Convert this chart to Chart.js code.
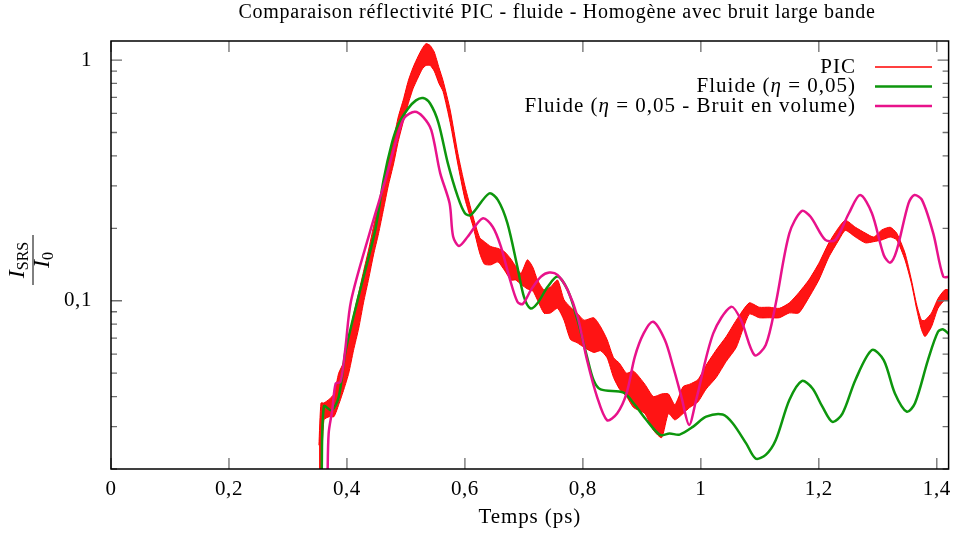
<!DOCTYPE html>
<html lang="fr">
<head>
<meta charset="utf-8">
<title>Comparaison réflectivité PIC - fluide</title>
<script src="https://cdn.jsdelivr.net/npm/chart.js@4.4.1/dist/chart.umd.min.js"></script>
<style>
  html, body { margin: 0; padding: 0; background: #fff; }
  #graphe { display: block; }
</style>
</head>
<body>
<canvas id="graphe" width="958" height="534"></canvas>
<script>
// Graduations
const xTicks = [0, 0.2, 0.4, 0.6, 0.8, 1, 1.2, 1.4];
const xTickLabels = ['0', '0,2', '0,4', '0,6', '0,8', '1', '1,2', '1,4'];
const yMajorTicks = [0.1, 1];
const yMajorLabels = ['0,1', '1'];
const yMinorTicks = [0.02, 0.03, 0.04, 0.05, 0.06, 0.07, 0.08, 0.09,
                     0.2, 0.3, 0.4, 0.5, 0.6, 0.7, 0.8, 0.9];

// PIC : enveloppe haute / basse des oscillations rapides
const picTemps = [0.3525, 0.356, 0.361, 0.370, 0.378, 0.386, 0.395, 0.403, 0.411, 0.420,
  0.428, 0.437, 0.445, 0.4535, 0.462, 0.470, 0.479, 0.487, 0.496, 0.504,
  0.512, 0.521, 0.528, 0.534, 0.541, 0.548, 0.556, 0.563, 0.575, 0.588,
  0.600, 0.6135, 0.625, 0.633, 0.644, 0.656, 0.667, 0.678, 0.686, 0.695,
  0.706, 0.715, 0.723, 0.734, 0.745, 0.757, 0.768, 0.779, 0.790, 0.802,
  0.8185, 0.830, 0.841, 0.852, 0.862, 0.874, 0.886, 0.905, 0.9195, 0.9335,
  0.945, 0.956, 0.970, 0.981, 0.995, 1.009, 1.026, 1.043, 1.060, 1.082,
  1.099, 1.116, 1.133, 1.150, 1.166, 1.183, 1.200, 1.217, 1.234, 1.245,
  1.262, 1.279, 1.293, 1.307, 1.321, 1.332, 1.346, 1.357, 1.366, 1.374,
  1.380, 1.391, 1.402, 1.4135, 1.422];
const picHaut = [0.0251, 0.0376, 0.0376, 0.039, 0.041, 0.050, 0.056, 0.070, 0.087, 0.108,
  0.132, 0.164, 0.203, 0.25, 0.31, 0.38, 0.47, 0.58, 0.69, 0.82,
  0.93, 1.04, 1.12, 1.17, 1.15, 1.08, 0.93, 0.82, 0.62, 0.41,
  0.30, 0.225, 0.183, 0.176, 0.168, 0.165, 0.160, 0.149, 0.139, 0.130,
  0.148, 0.138, 0.122, 0.111, 0.114, 0.122, 0.101, 0.094, 0.089, 0.083,
  0.085, 0.078, 0.069, 0.058, 0.055, 0.050, 0.051, 0.045, 0.040, 0.041,
  0.041, 0.037, 0.044, 0.045, 0.047, 0.054, 0.0624, 0.071, 0.083, 0.098,
  0.094, 0.094, 0.093, 0.098, 0.108, 0.122, 0.143, 0.174, 0.202, 0.216,
  0.202, 0.191, 0.184, 0.197, 0.202, 0.191, 0.158, 0.122, 0.096, 0.083,
  0.083, 0.089, 0.102, 0.111, 0.111];
const picBas = [0.019, 0.019, 0.032, 0.033, 0.033, 0.037, 0.043, 0.050, 0.062, 0.077,
  0.098, 0.124, 0.155, 0.19, 0.24, 0.30, 0.37, 0.46, 0.56, 0.66,
  0.76, 0.85, 0.92, 0.95, 0.95, 0.90, 0.80, 0.74, 0.55, 0.37,
  0.265, 0.205, 0.158, 0.142, 0.141, 0.145, 0.134, 0.122, 0.122, 0.117,
  0.112, 0.110, 0.1007, 0.089, 0.089, 0.093, 0.083, 0.069, 0.067, 0.064,
  0.061, 0.062, 0.058, 0.048, 0.043, 0.040, 0.036, 0.034, 0.029, 0.027,
  0.034, 0.032, 0.034, 0.036, 0.038, 0.043, 0.048, 0.056, 0.064, 0.088,
  0.085, 0.085, 0.085, 0.089, 0.089, 0.103, 0.122, 0.152, 0.179, 0.196,
  0.184, 0.174, 0.176, 0.179, 0.184, 0.179, 0.148, 0.118, 0.092, 0.076,
  0.071, 0.078, 0.093, 0.1007, 0.1007];

// Fluide (eta = 0,05)
const fluideTemps = [0.357, 0.361, 0.374, 0.386, 0.398, 0.420, 0.448, 0.462, 0.476, 0.487,
  0.504, 0.517, 0.529, 0.541, 0.555, 0.571, 0.588, 0.600, 0.610, 0.641,
  0.656, 0.672, 0.689, 0.700, 0.711, 0.723, 0.740, 0.757, 0.774, 0.791,
  0.807, 0.818, 0.830, 0.869, 0.886, 0.908, 0.931, 0.947, 0.964, 0.987,
  1.009, 1.037, 1.054, 1.077, 1.093, 1.110, 1.127, 1.150, 1.171, 1.189,
  1.206, 1.223, 1.240, 1.262, 1.290, 1.310, 1.329, 1.349, 1.363, 1.385,
  1.402, 1.411, 1.422];
const fluideI = [0.018, 0.0365, 0.035, 0.0398, 0.0624, 0.105, 0.197, 0.317, 0.45, 0.54,
  0.63, 0.68, 0.695, 0.66, 0.55, 0.373, 0.270, 0.231, 0.227, 0.279,
  0.262, 0.210, 0.138, 0.104, 0.093, 0.0977, 0.114, 0.126, 0.111, 0.083,
  0.0585, 0.0469, 0.0428, 0.0415, 0.0375, 0.0319, 0.0277, 0.0281, 0.0278, 0.030,
  0.033, 0.0337, 0.031, 0.0255, 0.0221, 0.0229, 0.0264, 0.0387, 0.0464, 0.0433,
  0.0363, 0.0314, 0.034, 0.0469, 0.0624, 0.0567, 0.0412, 0.0346, 0.0375, 0.0567,
  0.0743, 0.076, 0.0721];

// Fluide (eta = 0,05 - bruit en volume)
const bruitTemps = [0.367, 0.369, 0.375, 0.381, 0.389, 0.397, 0.407, 0.440, 0.465, 0.487,
  0.498, 0.515, 0.529, 0.543, 0.558, 0.574, 0.580, 0.590, 0.605, 0.630,
  0.647, 0.661, 0.675, 0.689, 0.698, 0.712, 0.729, 0.743, 0.757, 0.774,
  0.791, 0.807, 0.824, 0.841, 0.858, 0.874, 0.888, 0.903, 0.919, 0.939,
  0.953, 0.967, 0.980, 0.992, 1.021, 1.051, 1.068, 1.091, 1.110, 1.127,
  1.150, 1.171, 1.186, 1.211, 1.228, 1.251, 1.270, 1.290, 1.310, 1.321,
  1.332, 1.352, 1.362, 1.375, 1.394, 1.411, 1.422];
const bruitI = [0.018, 0.0281, 0.035, 0.0454, 0.046, 0.0624, 0.1, 0.197, 0.317, 0.496,
  0.578, 0.610, 0.581, 0.512, 0.34, 0.254, 0.185, 0.169, 0.185, 0.220,
  0.203, 0.168, 0.126, 0.099, 0.097, 0.111, 0.126, 0.131, 0.128, 0.111,
  0.0858, 0.0567, 0.0399, 0.0319, 0.034, 0.0412, 0.0585, 0.0732, 0.0818, 0.0687,
  0.0532, 0.0399, 0.0305, 0.0387, 0.0732, 0.0944, 0.0832, 0.0595, 0.0655, 0.0975,
  0.1905, 0.236, 0.2235, 0.179, 0.179, 0.231, 0.275, 0.231, 0.155, 0.144,
  0.162, 0.254, 0.275, 0.262, 0.1905, 0.126, 0.126];

const ROUGE = '#ff0000';
const VERT = '#0d960d';
const MAGENTA = '#e8128b';
const POLICE = '"Liberation Serif", "DejaVu Serif", serif';

function points(xs, ys) {
  return xs.map((x, i) => ({ x: x, y: ys[i] }));
}

// texte composé de morceaux (normal / italique / indice)
function texteRiche(ctx, morceaux, x, y, align) {
  let total = 0;
  morceaux.forEach(m => { ctx.font = m.f; total += ctx.measureText(m.t).width; });
  let cx = align === 'right' ? x - total : (align === 'center' ? x - total / 2 : x);
  morceaux.forEach(m => {
    ctx.font = m.f;
    ctx.fillText(m.t, cx, y + (m.dy || 0));
    cx += ctx.measureText(m.t).width;
  });
}

const decor = {
  id: 'decor',
  beforeDraw(chart) {
    // la police LaTeX d'origine est plus large : on espace un peu les lettres
    chart.ctx.letterSpacing = '0.6px';
  },
  afterDraw(chart) {
    const ctx = chart.ctx;
    const a = chart.chartArea;
    const sx = chart.scales.x, sy = chart.scales.y;
    ctx.save();

    // graduations vers l'intérieur, sur les quatre côtés
    ctx.strokeStyle = '#6e6e6e';
    ctx.lineWidth = 1.3;
    ctx.beginPath();
    xTicks.forEach(v => {
      const px = sx.getPixelForValue(v);
      ctx.moveTo(px, a.bottom); ctx.lineTo(px, a.bottom - 11);
      ctx.moveTo(px, a.top); ctx.lineTo(px, a.top + 11);
    });
    yMajorTicks.forEach(v => {
      const py = sy.getPixelForValue(v);
      ctx.moveTo(a.left, py); ctx.lineTo(a.left + 11, py);
      ctx.moveTo(a.right, py); ctx.lineTo(a.right - 11, py);
    });
    yMinorTicks.forEach(v => {
      const py = sy.getPixelForValue(v);
      ctx.moveTo(a.left, py); ctx.lineTo(a.left + 6, py);
      ctx.moveTo(a.right, py); ctx.lineTo(a.right - 6, py);
    });
    ctx.stroke();

    // cadre
    ctx.strokeStyle = '#000';
    ctx.lineWidth = 1.5;
    ctx.strokeRect(a.left, a.top, a.right - a.left, a.bottom - a.top);

    ctx.fillStyle = '#000';
    ctx.textBaseline = 'middle';

    // titre
    ctx.font = '20px ' + POLICE;
    ctx.letterSpacing = '0.75px';
    ctx.textAlign = 'center';
    ctx.fillText('Comparaison réflectivité PIC - fluide - Homogène avec bruit large bande', 557, 13);

    // titre axe x
    ctx.font = '21px ' + POLICE;
    ctx.letterSpacing = '0.9px';
    ctx.fillText('Temps (ps)', (a.left + a.right) / 2, 517);

    // titre axe y : I_SRS / I_0
    ctx.save();
    ctx.letterSpacing = '0px';
    ctx.translate(33, 260);
    ctx.rotate(-Math.PI / 2);
    ctx.textAlign = 'left';
    ctx.textBaseline = 'alphabetic';
    const it = 'italic 24px ' + POLICE, ind = '16px ' + POLICE;
    texteRiche(ctx, [{ t: 'I', f: it }, { t: 'SRS', f: ind, dy: 4 }], 0, -9, 'center');
    texteRiche(ctx, [{ t: 'I', f: it }, { t: '0', f: ind, dy: 4 }], 0, 16, 'center');
    ctx.lineWidth = 1;
    ctx.beginPath();
    ctx.moveTo(-25, 0); ctx.lineTo(25, 0);
    ctx.stroke();
    ctx.restore();

    // légende
    ctx.letterSpacing = '1px';
    const norm = '21px ' + POLICE, ital = 'italic 21px ' + POLICE;
    const lignes = [
      { c: ROUGE, w: 1.5, m: [{ t: 'PIC', f: norm }] },
      { c: VERT, w: 2.5, m: [{ t: 'Fluide (', f: norm }, { t: 'η', f: ital }, { t: ' = 0,05)', f: norm }] },
      { c: MAGENTA, w: 2.5, m: [{ t: 'Fluide (', f: norm }, { t: 'η', f: ital }, { t: ' = 0,05 - Bruit en volume)', f: norm }] }
    ];
    ctx.textAlign = 'left';
    ctx.textBaseline = 'middle';
    lignes.forEach((l, i) => {
      const y = 67 + i * 19.5;
      texteRiche(ctx, l.m, 856, y, 'right');
      ctx.strokeStyle = l.c;
      ctx.lineWidth = l.w;
      ctx.beginPath();
      ctx.moveTo(875, y); ctx.lineTo(932, y);
      ctx.stroke();
    });

    ctx.restore();
  }
};

Chart.defaults.font.family = POLICE;
Chart.defaults.font.size = 21;
Chart.defaults.color = '#000';

const ctx = document.getElementById('graphe').getContext('2d');
new Chart(ctx, {
  type: 'line',
  data: {
    datasets: [
      {
        label: 'PIC',
        data: points(picTemps, picHaut),
        borderColor: ROUGE,
        borderWidth: 1,
        pointRadius: 0,
        tension: 0.2,
        fill: false,
        order: 2
      },
      {
        label: 'PIC (bas)',
        data: points(picTemps, picBas),
        borderColor: ROUGE,
        borderWidth: 1,
        backgroundColor: 'rgba(255,0,0,0.92)',
        pointRadius: 0,
        tension: 0.2,
        fill: '-1',
        order: 3
      },
      {
        label: 'Fluide (η = 0,05)',
        data: points(fluideTemps, fluideI),
        borderColor: VERT,
        borderWidth: 2.5,
        pointRadius: 0,
        tension: 0.3,
        fill: false,
        order: 1
      },
      {
        label: 'Fluide (η = 0,05 - Bruit en volume)',
        data: points(bruitTemps, bruitI),
        borderColor: MAGENTA,
        borderWidth: 2.5,
        pointRadius: 0,
        tension: 0.3,
        fill: false,
        order: 0
      }
    ]
  },
  options: {
    responsive: false,
    animation: false,
    layout: { padding: { left: 0, right: 5, top: 41, bottom: 0 } },
    plugins: {
      legend: { display: false },
      title: { display: false },
      tooltip: { enabled: false }
    },
    scales: {
      x: {
        type: 'linear',
        min: 0,
        max: 1.42,
        grid: { display: false, drawTicks: false },
        border: { display: false },
        afterBuildTicks: s => { s.ticks = xTicks.map(v => ({ value: v })); },
        afterFit: s => { s.height = 65; },
        ticks: {
          autoSkip: false,
          maxRotation: 0,
          padding: 8,
          callback: (v, i) => xTickLabels[i]
        }
      },
      y: {
        type: 'logarithmic',
        min: 0.02,
        max: 1.2,
        grid: { display: false, drawTicks: false },
        border: { display: false },
        afterBuildTicks: s => { s.ticks = yMajorTicks.map(v => ({ value: v })); },
        afterFit: s => { s.width = 111; },
        ticks: {
          autoSkip: false,
          padding: 19,
          callback: (v, i) => yMajorLabels[i]
        }
      }
    }
  },
  plugins: [decor]
});
</script>
</body>
</html>
